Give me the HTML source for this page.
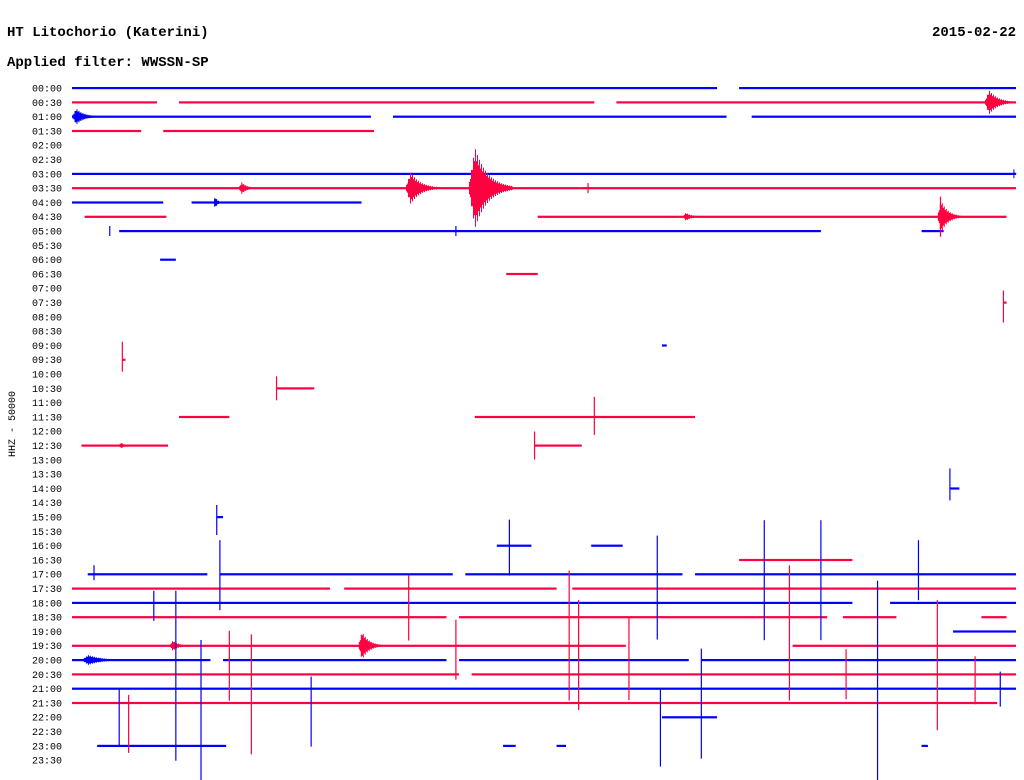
<!DOCTYPE html>
<html><head><meta charset="utf-8"><style>
html,body{margin:0;padding:0;background:#fff;}
svg{display:block;}
text{font-family:"Liberation Mono",monospace;fill:#000;}
</style></head><body>
<svg id="c" width="1024" height="780">
<text x="7" y="36" font-size="14" font-weight="bold">HT Litochorio (Katerini)</text>
<text x="1016" y="36" font-size="14" font-weight="bold" text-anchor="end">2015-02-22</text>
<text x="7" y="66" font-size="14" font-weight="bold">Applied filter: WWSSN-SP</text>
<text transform="translate(15,424) rotate(-90)" font-size="10" text-anchor="middle">HHZ - 50000</text>
</svg>
<script>
// segments: [rowIndex, startMinute, endMinute]
const segments = [
[0,0,20.5],[0,21.2,30],[1,0,2.7],[1,3.4,16.6],[1,17.3,30],[2,0,9.5],[2,10.2,20.8],[2,21.6,30],
[3,0,2.2],[3,2.9,9.6],[6,0,30],[7,0,30],[8,0,2.9],[8,3.8,9.2],[9,0.4,3.0],[9,14.8,29.7],
[10,1.5,23.8],[10,27,27.7],[12,2.8,3.3],[13,13.8,14.8],[15,29.6,29.7],[18,18.75,18.9],[19,1.6,1.7],
[21,6.5,7.7],[23,3.4,5.0],[23,12.8,19.8],[25,0.3,3.05],[25,14.7,16.2],[28,27.9,28.2],[30,4.6,4.8],
[32,13.5,14.6],[32,16.5,17.5],[33,21.2,24.8],
[34,0.5,4.3],[34,4.7,12.1],[34,12.5,19.4],[34,19.8,30],
[35,0,8.2],[35,8.65,15.4],[35,15.9,30],[36,0,24.8],[36,26,30],
[37,0,11.9],[37,12.3,24],[37,24.5,26.2],[37,28.9,29.7],[38,28,30],
[39,0,17.6],[39,22.9,30],[40,0,4.4],[40,4.8,11.9],[40,12.3,19.6],[40,20,30],
[41,0,12.3],[41,12.7,30],[42,0,30],[43,0,29.4],[44,18.75,20.5],
[46,0.8,4.9],[46,13.7,14.1],[46,15.4,15.7],[46,27,27.2]
];
// bursts: [rowIndex, onsetMinute, durationMinutes, amplitudePx]
const bursts = [[1,29.0,1.0,12],[2,0.0,0.9,8],[7,12.6,1.4,40],[7,10.6,1.1,16],[7,5.3,0.6,6],[6,29.9,0.1,8],
[9,27.5,0.8,16],[9,19.4,0.7,4],[39,9.1,0.8,14],[39,3.1,0.7,5],[40,0.3,1.5,5],[8,4.5,0.3,6],[25,1.5,0.4,3]];
// spikes: [rowIndex, minute, upPx, downPx]
const spikes = [
[30,4.6,12,18],[34,4.7,34,36],[34,22.0,54,66],[34,23.8,54,66],[34,26.9,34,26],[32,13.9,26,30],[32,18.6,10,94],
[35,22.8,23,112],[35,15.8,18,112],[35,10.7,13,52],[34,0.7,9,6],[36,3.3,12,158],[36,2.6,12,18],[36,25.6,22,178],
[39,12.2,26,34],[37,17.7,0,83],[37,16.1,17,93],[37,27.5,17,113],[41,28.7,18,30],[42,29.5,17,18],
[40,4.1,20,120],[41,5.7,40,80],[42,7.6,12,58],[42,1.5,0,58],[43,1.8,8,50],[42,18.7,0,78],[42,20.0,40,70],
[41,24.6,25,25],[39,5.0,15,55],[9,27.6,20,20],[19,1.6,18,12],[15,29.6,12,20],
[28,27.9,20,12],[25,14.7,14,14],[23,16.6,20,18],[21,6.5,12,12],[10,12.2,5,5],[10,1.2,5,5],[7,16.4,5,5]
];
const labels = [];
for (let h=0;h<24;h++){const hh=String(h).padStart(2,'0');labels.push(hh+':00');labels.push(hh+':30');}
const svg=document.getElementById('c');
const NS='http://www.w3.org/2000/svg';
const xOf=m=>72+m*(944/30);
const yOf=i=>88+i*14.3;
const col=i=>i%2===0?'#0000ff':'#ff0040';
labels.forEach((t,i)=>{
 const e=document.createElementNS(NS,'text');
 e.setAttribute('x',62);e.setAttribute('y',yOf(i)+3.5);e.setAttribute('font-size','10');e.setAttribute('text-anchor','end');
 
 
 e.textContent=t;svg.appendChild(e);
});
segments.forEach(s=>{
 const r=document.createElementNS(NS,'rect');
 r.setAttribute('x',xOf(s[1]));r.setAttribute('y',yOf(s[0])-1);
 r.setAttribute('width',Math.max(2,xOf(s[2])-xOf(s[1])));r.setAttribute('height',2.2);r.setAttribute('fill',col(s[0]));
 
 
 svg.appendChild(r);
});
bursts.forEach(b=>{
 const x0=xOf(b[1]),w=b[2]*944/30,y=yOf(b[0]);
 const g=document.createElementNS(NS,'path');
 let d='';
 for(let k=0;k<=w;k+=1){
   const t=k/w;
   const env=t<0.15?t/0.15:Math.exp(-(t-0.15)*3.5);
   const a=b[3]*env*(k%2?1:0.75);
   d+=`M${(x0+k).toFixed(1)},${(y-a).toFixed(1)}V${(y+a).toFixed(1)}`;
 }
 g.setAttribute('d',d);g.setAttribute('stroke',col(b[0]));g.setAttribute('stroke-width',1);g.setAttribute('fill','none');
 
 
 svg.appendChild(g);
});
spikes.forEach(s=>{
 const x=xOf(s[1]),y=yOf(s[0]);
 const l=document.createElementNS(NS,'line');
 l.setAttribute('x1',x);l.setAttribute('x2',x);l.setAttribute('y1',y-s[2]);l.setAttribute('y2',y+s[3]);
 l.setAttribute('stroke',col(s[0]));l.setAttribute('stroke-width',1.2);
 
 
 svg.appendChild(l);
});
</script>
</body></html>
